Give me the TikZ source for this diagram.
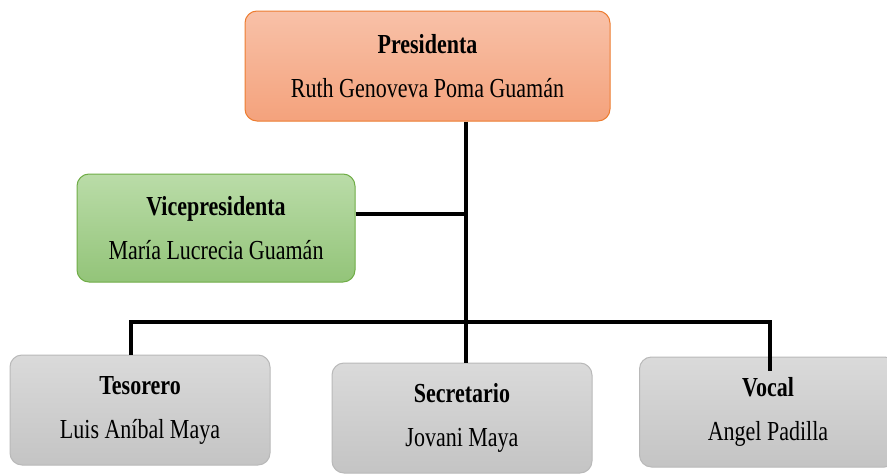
\documentclass[tikz,border=0pt]{standalone}
\usepackage{fontspec}
\setmainfont[FakeStretch=0.8]{Liberation Serif}
\usepackage{tikz}
\usetikzlibrary{positioning}

\definecolor{naranja}{RGB}{237,125,49}
\definecolor{verde}{RGB}{112,173,71}
\definecolor{gris}{RGB}{185,185,185}

\tikzset{
  cargo/.style={rounded corners=12pt, align=center, line width=1pt,
    minimum width=260pt, minimum height=110pt,
    font=\fontsize{27.5}{30}\selectfont},
  presi/.style={cargo, draw=naranja, top color={rgb,255:red,248;green,193;blue,168},
    bottom color={rgb,255:red,244;green,162;blue,124}, minimum width=365pt},
  vice/.style={cargo, draw=verde, top color={rgb,255:red,186;green,220;blue,168},
    bottom color={rgb,255:red,147;green,196;blue,121}, minimum width=278pt, minimum height=108pt},
  vocal/.style={cargo, draw=gris, top color={rgb,255:red,218;green,218;blue,218},
    bottom color={rgb,255:red,196;green,196;blue,196}},
  linea/.style={line width=3.2pt, black}
}

\begin{document}
\begin{tikzpicture}[x=1pt,y=-1pt]
  \useasboundingbox[fill=white] (0,0) rectangle (887,474);

  \node[presi] (pres) at (427.5,66) {\textbf{Presidenta}\\[14pt] Ruth Genoveva Poma Guamán};
  \node[vice] (vice) at (216,228) {\textbf{Vicepresidenta}\\[14pt] María Lucrecia Guamán};

  \node[vocal] (tes) at (140,410) {\textbf{Tesorero}\\[14pt] Luis Aníbal Maya};
  \node[vocal] (sec) at (462,418) {\textbf{Secretario}\\[14pt] Jovani Maya};
  \node[vocal, minimum width=257pt] (voc) at (768,412) {\textbf{Vocal}\\[14pt] Angel Padilla};

  % lineas
  \coordinate (barra) at (466,322);
  \draw[linea] (pres.south -| barra) -- ([xshift=4pt]sec.north);
  \draw[linea] ([yshift=14pt]vice.east) -- ([yshift=14pt]vice.east -| barra);
  \draw[linea] ([xshift=-9pt]tes.north) |- (barra) -| ([xshift=2pt,yshift=-14pt]voc.north);
\end{tikzpicture}
\end{document}
